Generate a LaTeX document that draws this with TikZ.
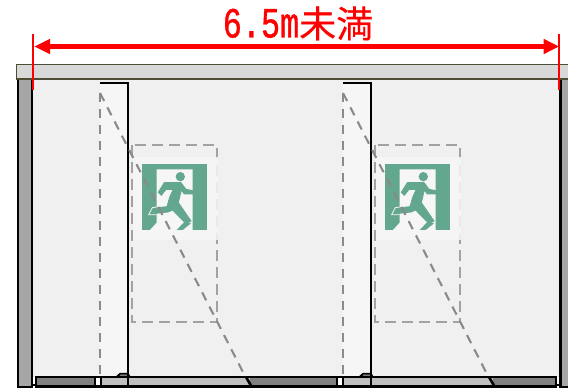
\documentclass[tikz,border=0pt]{standalone}
\usepackage{fontspec}
\newfontfamily\latinf[FakeStretch=0.74,FakeBold=0.8]{Liberation Mono}
\newfontfamily\cjkf[FakeBold=0.4]{Noto Sans CJK JP}
\definecolor{signg}{HTML}{64A78F}
\definecolor{room}{HTML}{F0F0F0}
\definecolor{pocket}{HTML}{F6F6F6}
\definecolor{beam}{HTML}{D9D9D9}
\definecolor{beamline}{HTML}{4F4C36}
\definecolor{wallc}{HTML}{A6A6A6}
\definecolor{darkp}{HTML}{808080}
\definecolor{lightp}{HTML}{BFBFBF}
\definecolor{dashc}{HTML}{8A8A8A}
\tikzset{
  blackline/.style={draw=black,line width=2.2pt},
  hingedash/.style={draw=dashc,line width=2.1pt,dash pattern=on 9pt off 7pt},
  boxdash/.style={draw=lightp!85!black,line width=2.1pt,dash pattern=on 11pt off 6pt},
  redline/.style={draw=red,line width=2.2pt},
  panel/.style={draw=black,line width=2.2pt},
}
\newcommand{\doorunit}[1]{%
\begin{scope}[xshift=#1]
  \fill[pocket] (100,-83) rectangle (128,-377);
  \draw[blackline] (100,-83) -- (128,-83) -- (128,-387);
  \draw[boxdash] (132,-145) rectangle (217,-322);
  \fill[pocket,opacity=.85] (133,-157) rectangle (218,-240);
  % sign
  \begin{scope}[shift={(136,-160)},x=0.3333pt,y=-0.3333pt]
    \fill[signg] (17,12) rectangle (212,210);
    \fill[pocket] (62,28) -- (170,28) -- (170,210) -- (42,210) -- (62,188) -- cycle;
    \fill[signg] (133,50) circle (14);
    \filldraw[fill=signg,draw=signg,line width=.9pt,line join=round] (67,97) -- (85,68) -- (135,68) -- (150,88) -- (170,92) -- (170,102) -- (145,102) -- (136,90) -- (127,128) -- (165,183) -- (150,191) -- (110,150) -- (96,156) -- (40,162) -- (50,145) -- (93,140) -- (101,112) -- (112,88) -- (90,88) -- (76,106) -- cycle;
    \fill[signg] (122,210) -- (145,186) -- (165,190) -- (140,210) -- cycle;
    \draw[pocket,line width=.8pt] (62,141) -- (49,143) -- (38,164) -- (62,164);
  \end{scope}
  \draw[hingedash] (100,-93) -- (100,-377);
  \draw[hingedash] (100,-93) -- (246,-378);
\end{scope}}
\begin{document}
\begin{tikzpicture}[x=1pt,y=1pt]
\useasboundingbox (0,0) rectangle (568,-390);
\fill[white] (0,0) rectangle (568,-390);
\fill[room] (32,-79) rectangle (560,-377);
\coordinate (wl) at (34.5,-46.5);
\coordinate (wr) at (558.7,-46.5);
\foreach \d in {0,243}{\doorunit{\d pt}}
% floor panels
\fill[darkp] (36,-377) rectangle (95,-386.5);
\fill[lightp] (101,-377) rectangle (250,-386.5);
\fill[darkp] (250,-377) rectangle (337,-386.5);
\fill[lightp] (343,-377) rectangle (493,-386.5);
\fill[darkp] (493,-377) rectangle (556,-386.5);
\fill[white] (95,-379) rectangle (101,-386.5);
\fill[white] (337,-379) rectangle (343,-386.5);
\draw[panel] (36,-377) rectangle (556,-386.5);
\draw[panel] (95,-377) -- (95,-386.5) (101,-377) -- (101,-386.5);
\draw[panel] (337,-377) -- (337,-386.5) (343,-377) -- (343,-386.5);
\foreach \d in {0,243}{
  \filldraw[fill=lightp,panel,line width=1.6pt,xshift=\d pt] (117,-376.5) -- (120,-373.7) -- (128,-373.7) -- (129.5,-376.5) -- cycle;
  \draw[draw=black,line width=2.2pt,xshift=\d pt] (128,-373.7) -- (128,-387);
  \draw[draw=black,line width=2.6pt,xshift=\d pt] (246,-377) -- (251.5,-386.5);
}
% walls and beam
\filldraw[fill=wallc,blackline] (18,-79) rectangle (32,-387);
\filldraw[fill=wallc,blackline] (560.5,-79) rectangle (571,-387);
\draw[panel] (32,-385) -- (36,-385);
\draw[panel] (556,-385) -- (560.5,-385);
\filldraw[fill=beam,draw=beamline,line width=1.3pt] (16.5,-64.5) rectangle (571,-79);
% dimension
\draw[redline] (33.3,-34) -- (33.3,-90.5);
\draw[redline] (558.7,-34) -- (558.7,-90.5);
\fill[red] (wl) -- ++(15.5,7.7) -- ++(0,-15.4) -- cycle;
\fill[red] (wr) -- ++(-15,7.7) -- ++(0,-15.4) -- cycle;
\draw[draw=red,line width=4.3pt] (48,-46.5) -- (545,-46.5);
\node[red,inner sep=0pt,anchor=base] (dim) at (298,-37.5) {\fontsize{43}{43}\latinf 6.5m\fontsize{37}{37}\cjkf 未満};
\end{tikzpicture}
\end{document}
